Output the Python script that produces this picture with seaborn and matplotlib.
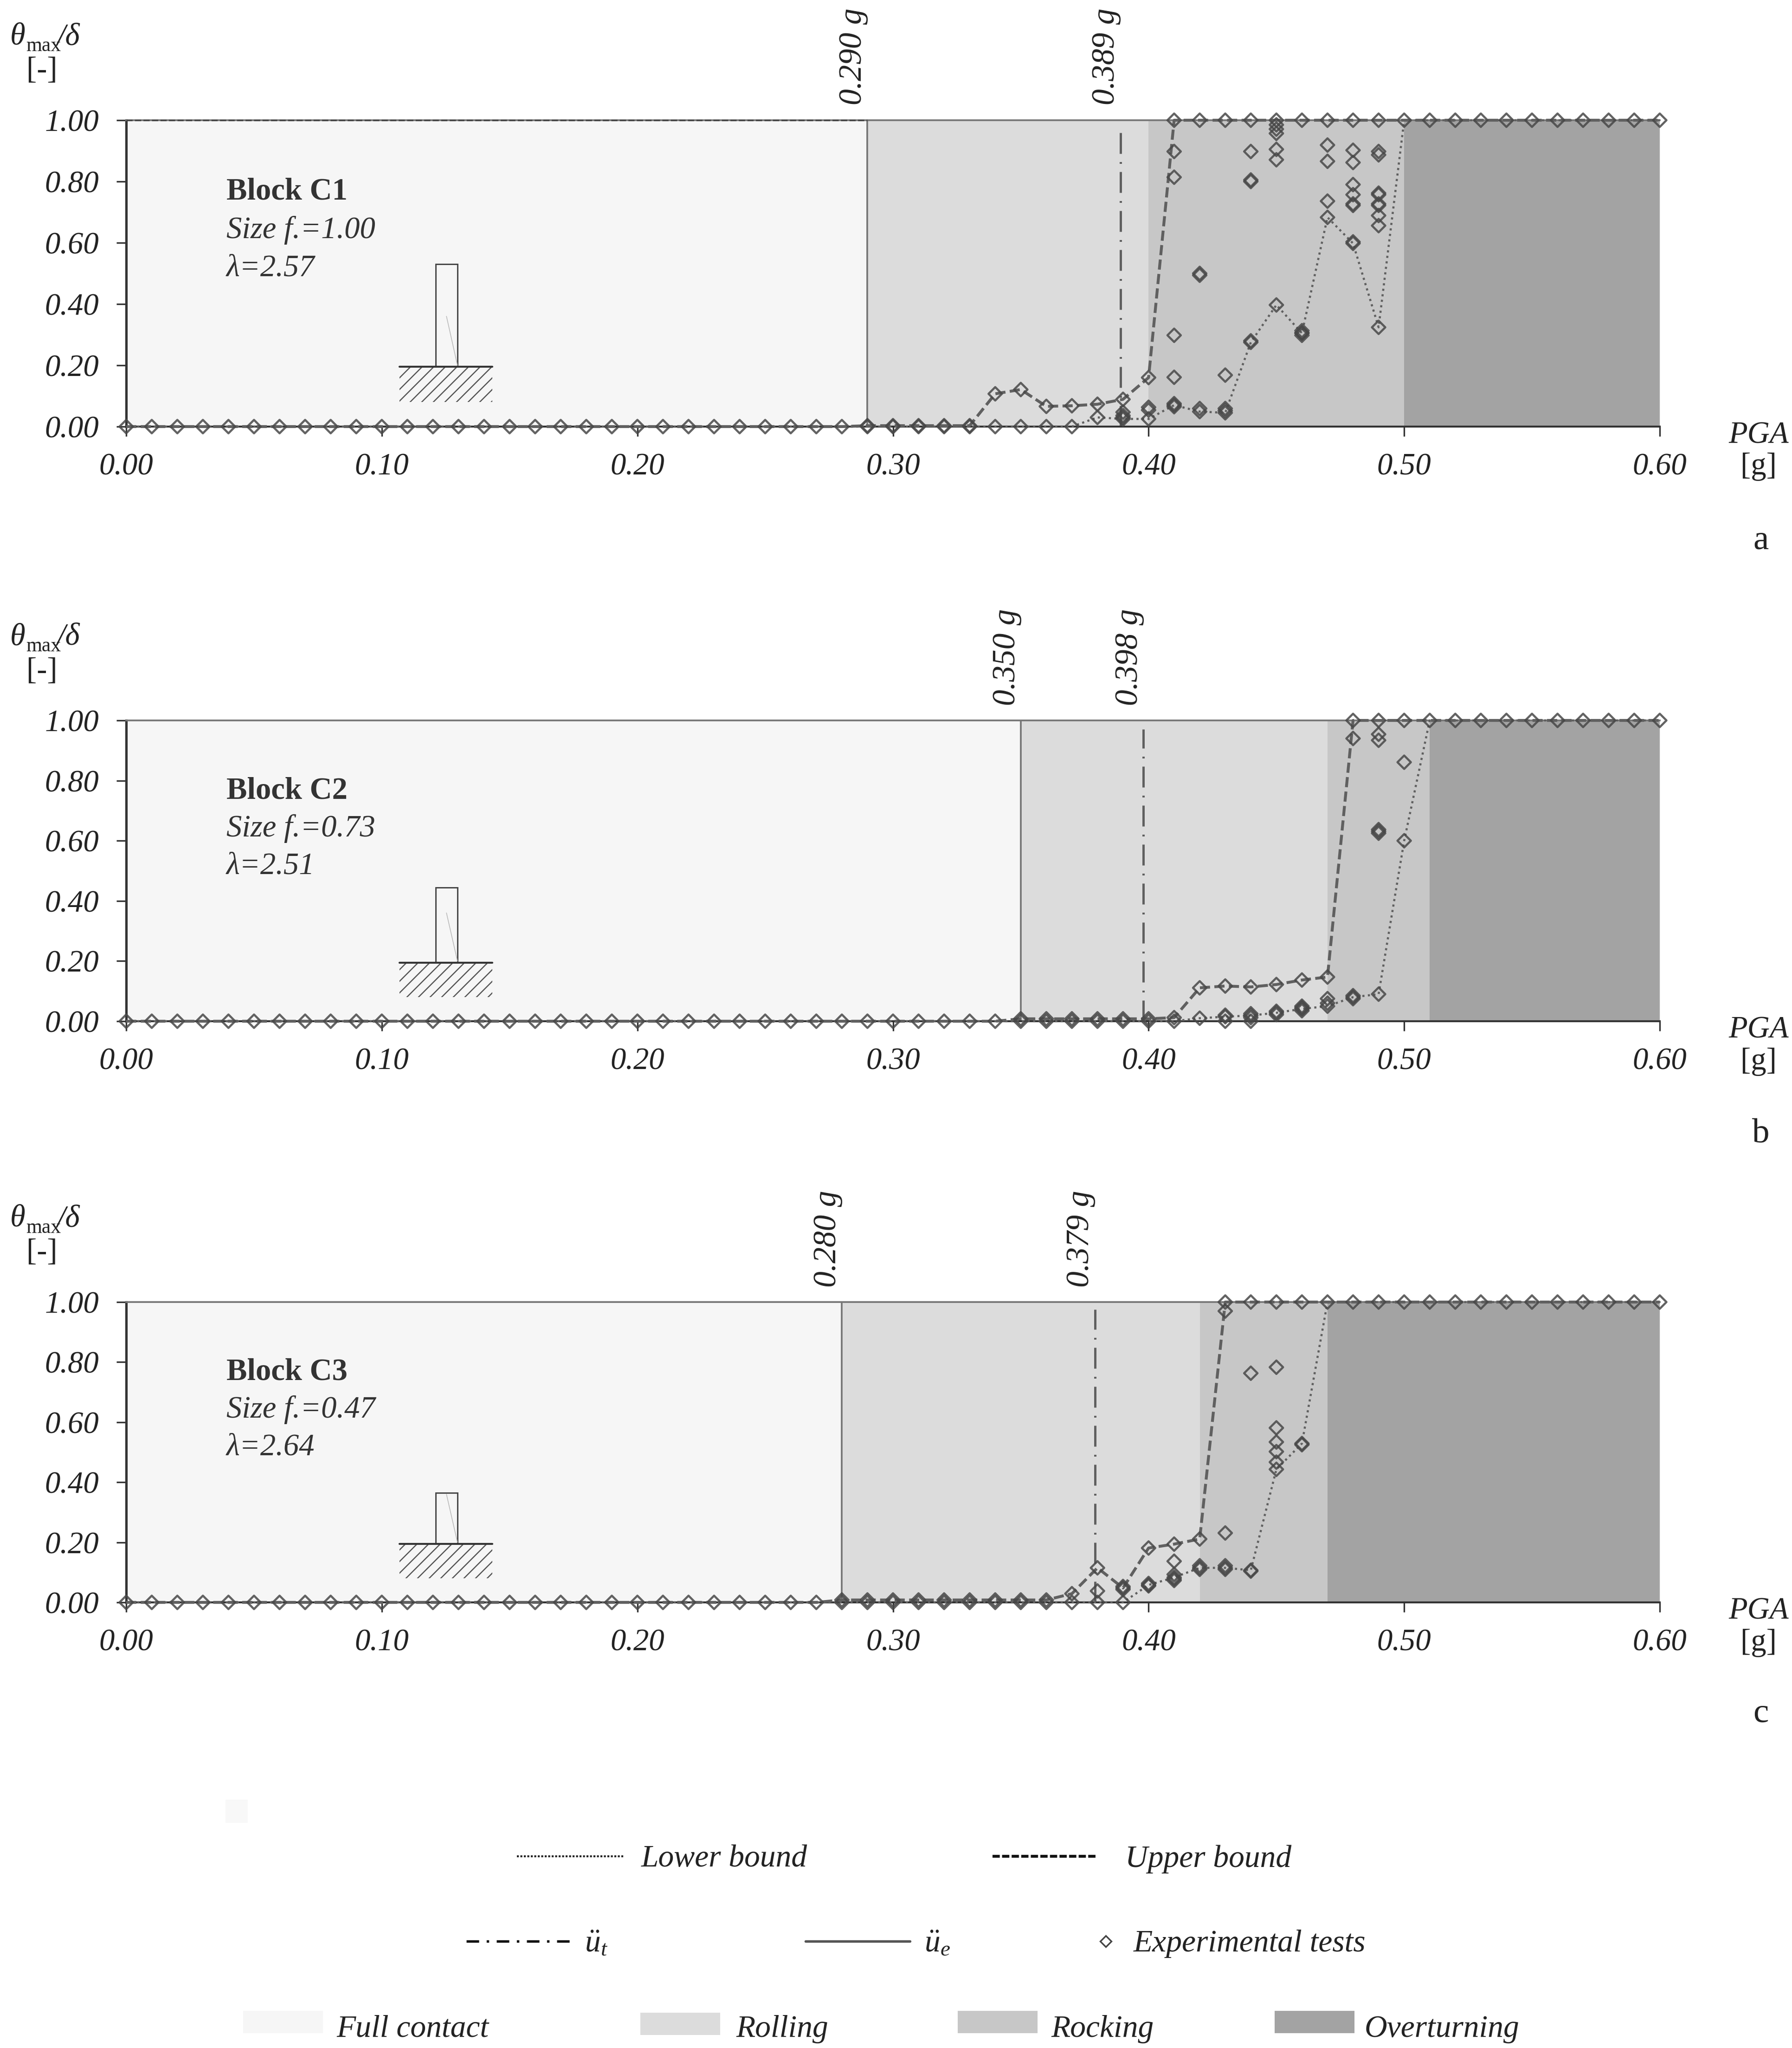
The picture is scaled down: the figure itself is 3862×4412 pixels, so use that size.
import matplotlib
matplotlib.use('Agg')
import matplotlib.pyplot as plt
import pandas as pd
import seaborn as sns
from matplotlib.patches import Rectangle

FIG_W, FIG_H = 3862, 4412

# PGA grid of the tests [g]
pga_grid = [
    0.00, 0.01, 0.02, 0.03, 0.04, 0.05, 0.06, 0.07, 0.08, 0.09,
    0.10, 0.11, 0.12, 0.13, 0.14, 0.15, 0.16, 0.17, 0.18, 0.19,
    0.20, 0.21, 0.22, 0.23, 0.24, 0.25, 0.26, 0.27, 0.28, 0.29,
    0.30, 0.31, 0.32, 0.33, 0.34, 0.35, 0.36, 0.37, 0.38, 0.39,
    0.40, 0.41, 0.42, 0.43, 0.44, 0.45, 0.46, 0.47, 0.48, 0.49,
    0.50, 0.51, 0.52, 0.53, 0.54, 0.55, 0.56, 0.57, 0.58, 0.59,
    0.60,
]

# Block C1
c1_lower = [
    0, 0, 0, 0, 0, 0, 0, 0, 0, 0,
    0, 0, 0, 0, 0, 0, 0, 0, 0, 0,
    0, 0, 0, 0, 0, 0, 0, 0, 0, 0,
    0, 0, 0, 0, 0, 0, 0, 0, 0.03, 0.025,
    0.025, 0.07, 0.049, 0.045, 0.275, 0.397, 0.305, 0.683, 0.598, 0.324,
    1, 1, 1, 1, 1, 1, 1, 1, 1, 1,
    1,
]
c1_upper = [
    0, 0, 0, 0, 0, 0, 0, 0, 0, 0,
    0, 0, 0, 0, 0, 0, 0, 0, 0, 0,
    0, 0, 0, 0, 0, 0, 0, 0, 0, 0.003,
    0.003, 0.003, 0.003, 0.003, 0.107, 0.121, 0.066, 0.068, 0.073, 0.089,
    0.16, 1, 1, 1, 1, 1, 1, 1, 1, 1,
    1, 1, 1, 1, 1, 1, 1, 1, 1, 1,
    1,
]
c1_extra_x = [
    0.39, 0.39, 0.39, 0.40, 0.40, 0.41, 0.41, 0.41, 0.41, 0.41, 0.41,
    0.42, 0.42, 0.42, 0.43, 0.43, 0.43, 0.44, 0.44, 0.44, 0.44,
    0.45, 0.45, 0.45, 0.45, 0.45, 0.46, 0.46, 0.46,
    0.47, 0.47, 0.47, 0.48, 0.48, 0.48, 0.48, 0.48, 0.48, 0.48,
    0.49, 0.49, 0.49, 0.49, 0.49, 0.49, 0.49, 0.49,
]
c1_extra_y = [
    0.047, 0.036, 0.03, 0.063, 0.054, 0.898, 0.814, 0.298, 0.161, 0.075, 0.065,
    0.494, 0.50, 0.059, 0.168, 0.059, 0.052, 0.898, 0.80, 0.805, 0.28,
    0.985, 0.971, 0.957, 0.905, 0.871, 0.313, 0.306, 0.298,
    0.919, 0.866, 0.736, 0.902, 0.862, 0.79, 0.757, 0.722, 0.727, 0.603,
    0.898, 0.887, 0.757, 0.762, 0.722, 0.727, 0.689, 0.656,
]

# Block C2
c2_lower = [
    0, 0, 0, 0, 0, 0, 0, 0, 0, 0,
    0, 0, 0, 0, 0, 0, 0, 0, 0, 0,
    0, 0, 0, 0, 0, 0, 0, 0, 0, 0,
    0, 0, 0, 0, 0, 0, 0, 0, 0, 0,
    0, 0, 0.01, 0.015, 0.019, 0.028, 0.041, 0.05, 0.08, 0.09,
    0.60, 1, 1, 1, 1, 1, 1, 1, 1, 1,
    1,
]
c2_upper = [
    0, 0, 0, 0, 0, 0, 0, 0, 0, 0,
    0, 0, 0, 0, 0, 0, 0, 0, 0, 0,
    0, 0, 0, 0, 0, 0, 0, 0, 0, 0,
    0, 0, 0, 0, 0, 0.008, 0.008, 0.008, 0.008, 0.008,
    0.008, 0.012, 0.111, 0.117, 0.114, 0.122, 0.137, 0.147, 1, 1,
    1, 1, 1, 1, 1, 1, 1, 1, 1, 1,
    1,
]
c2_extra_x = [
    0.43, 0.43, 0.44, 0.44, 0.44, 0.45, 0.45, 0.46, 0.46, 0.46,
    0.47, 0.47, 0.48, 0.48, 0.48, 0.49, 0.49, 0.49, 0.49, 0.49, 0.50,
]
c2_extra_y = [
    0, 0.02, 0, 0.025, 0.012, 0.033, 0.022, 0.05, 0.035, 0.045,
    0.075, 0.06, 0.075, 0.085, 0.94, 0.954, 0.934, 0.631, 0.625, 0.637, 0.861,
]

# Block C3
c3_lower = [
    0, 0, 0, 0, 0, 0, 0, 0, 0, 0,
    0, 0, 0, 0, 0, 0, 0, 0, 0, 0,
    0, 0, 0, 0, 0, 0, 0, 0, 0, 0,
    0, 0, 0, 0, 0, 0, 0, 0, 0, 0,
    0.058, 0.083, 0.115, 0.115, 0.107, 0.443, 0.529, 1, 1, 1,
    1, 1, 1, 1, 1, 1, 1, 1, 1, 1,
    1,
]
c3_upper = [
    0, 0, 0, 0, 0, 0, 0, 0, 0, 0,
    0, 0, 0, 0, 0, 0, 0, 0, 0, 0,
    0, 0, 0, 0, 0, 0, 0, 0, 0.008, 0.008,
    0.008, 0.008, 0.008, 0.008, 0.008, 0.008, 0.008, 0.029, 0.115, 0.048,
    0.181, 0.194, 0.211, 1, 1, 1, 1, 1, 1, 1,
    1, 1, 1, 1, 1, 1, 1, 1, 1, 1,
    1,
]
c3_extra_x = [
    0.38, 0.39, 0.39, 0.40, 0.40, 0.41, 0.41, 0.41, 0.41, 0.42, 0.42,
    0.43, 0.43, 0.43, 0.43, 0.44, 0.44, 0.45, 0.45, 0.45, 0.45, 0.45, 0.46,
]
c3_extra_y = [
    0.038, 0.043, 0.053, 0.063, 0.055, 0.137, 0.093, 0.073, 0.078, 0.122, 0.11,
    0.97, 0.231, 0.122, 0.11, 0.763, 0.104, 0.783, 0.581, 0.534, 0.502, 0.467, 0.525,
]

block_names = ['Block C1', 'Block C2', 'Block C3']
size_factors = ['1.00', '0.73', '0.47']
slenderness = ['2.57', '2.51', '2.64']
ue_values = [0.290, 0.350, 0.280]
ut_values = [0.389, 0.398, 0.379]
ut_line_tops = [0.985, 0.97, 0.975]
rocking_start = [0.40, 0.47, 0.42]
overturn_start = [0.50, 0.51, 0.47]
block_tops = [0.53, 0.445, 0.365]
panel_letters = ['a', 'b', 'c']

# pixel position of each panel: y of 1.00 and y of 0.00
panel_top = [259, 1552, 2805]
panel_bottom = [919, 2200, 3452]
panel_left, panel_right = 272, 3577

zone_colors = ['#f6f6f6', '#dcdcdc', '#c7c7c7', '#a3a3a3']
line_gray = '#606060'
text_gray = '#333333'


def px_axes(fig, top, bottom):
    return fig.add_axes([
        panel_left / FIG_W, 1 - bottom / FIG_H,
        (panel_right - panel_left) / FIG_W, (bottom - top) / FIG_H,
    ])


def draw_schematic(ax, block_top):
    ax.add_patch(Rectangle((0.121, 0.195), 0.0086, block_top - 0.195,
                           fill=False, edgecolor='#444444', lw=0.7))
    ax.plot([0.1253, 0.1296], [0.36, 0.2], color='#bbbbbb', lw=0.4)
    ax.add_patch(Rectangle((0.107, 0.08), 0.0363, 0.115, facecolor='none',
                           edgecolor='#555555', hatch='////', lw=0))
    ax.plot([0.107, 0.1433], [0.195, 0.195], color='#333333', lw=1.0)


def draw_panel(ax, i, lower, upper, extra_x, extra_y):
    edges = [0, ue_values[i], rocking_start[i], overturn_start[i], 0.6]
    for k in range(4):
        ax.axvspan(edges[k], edges[k + 1], color=zone_colors[k], lw=0, zorder=0)

    sns.lineplot(x=pga_grid, y=lower, ax=ax, color=line_gray, lw=1.1,
                 linestyle=(0, (1, 1.6)), estimator=None, clip_on=False, zorder=3)
    sns.lineplot(x=pga_grid, y=upper, ax=ax, color=line_gray, lw=1.5,
                 linestyle=(0, (3.5, 1.5)), estimator=None, clip_on=False, zorder=3)

    ax.plot([ue_values[i]] * 2, [0, 1], color='#777777', lw=0.9, zorder=2)
    ax.plot([ut_values[i]] * 2, [0, ut_line_tops[i]], color=line_gray, lw=1.2,
            linestyle=(0, (9, 3.5, 0.8, 3.5)), zorder=2)
    if i == 0:
        # the top edge of the first panel shows dashes before the u_e line
        ax.plot([0, ue_values[i]], [1, 1], color='#444444', lw=0.8,
                linestyle=(0, (4, 1.5)), clip_on=False, zorder=3)

    # the tests sit on both bounds, plus the scattered repeats in between
    on_bounds = pd.DataFrame({
        'pga': pga_grid + pga_grid,
        'ratio': lower + upper,
    }).drop_duplicates()
    tests = pd.concat([on_bounds, pd.DataFrame({'pga': extra_x, 'ratio': extra_y})])
    sns.scatterplot(data=tests, x='pga', y='ratio', ax=ax, marker='D', s=24,
                    facecolors='none', edgecolor='#484848', linewidth=1.1,
                    alpha=0.85, clip_on=False, zorder=4, legend=False)

    draw_schematic(ax, block_tops[i])

    ax.text(0.0392, 0.766, block_names[i], fontsize=16, fontweight='bold',
            color=text_gray, va='center', fontfamily='Liberation Serif')
    ax.text(0.0392, 0.641, f'Size f.={size_factors[i]}', fontsize=16, style='italic',
            color=text_gray, va='center', fontfamily='Liberation Serif')
    ax.text(0.0392, 0.516, f'λ={slenderness[i]}', fontsize=16, style='italic',
            color=text_gray, va='center', fontfamily='Liberation Serif')

    for val in (ue_values[i], ut_values[i]):
        ax.text(val + 0.0003, 1.05, f'{val:.3f} g', rotation=90, fontsize=16.7,
                style='italic', ha='right', va='bottom', color='#222222',
                fontfamily='Liberation Serif', clip_on=False)

    ax.set_xlim(0, 0.6)
    ax.set_ylim(0, 1)
    ax.set_xticks([0, 0.1, 0.2, 0.3, 0.4, 0.5, 0.6])
    ax.set_yticks([0, 0.2, 0.4, 0.6, 0.8, 1.0])
    ax.set_xticklabels([f'{v:.2f}' for v in ax.get_xticks()])
    ax.set_yticklabels([f'{v:.2f}' for v in ax.get_yticks()])
    ax.tick_params(axis='x', pad=8.5)
    ax.tick_params(axis='y', pad=9)
    ax.tick_params(axis='both', length=5, width=0.8, color='#333333', labelsize=16,
                   labelcolor='#222222')
    for lab in ax.get_xticklabels() + ax.get_yticklabels():
        lab.set_style('italic')
    ax.set_xlabel('')
    ax.set_ylabel('')
    sns.despine(ax=ax, top=False, right=True)
    ax.spines['left'].set_color('#333333')
    ax.spines['bottom'].set_color('#333333')
    ax.spines['bottom'].set_linewidth(1.0)
    ax.spines['top'].set_color('#777777')
    ax.spines['top'].set_linewidth(0.9)


def draw_outer_text(over, i):
    top, bottom = panel_top[i], panel_bottom[i]
    # italic greek is not reached through mathtext here, so the label is three pieces
    base = top - 163
    over.text(22, base, 'θ', fontsize=16, style='italic', va='baseline', color='#222222')
    over.text(56, base + 14, 'max', fontsize=10.5, va='baseline', color='#222222')
    over.text(122, base, '/δ', fontsize=16, style='italic', va='baseline', color='#222222')
    over.text(90, top - 106, '[-]', fontsize=16, ha='center', va='center', color='#222222')
    over.text(3790, bottom + 19, 'PGA', fontsize=16, style='italic', ha='center',
              va='center', color='#222222')
    over.text(3790, bottom + 87, '[g]', fontsize=16, ha='center', va='center', color='#222222')
    over.text(3795, bottom + 246 - 3 * i, panel_letters[i], fontsize=18, ha='center',
              va='center', color='#222222')


def draw_legend(over):
    legend_size = 16.2
    over.plot([1114, 1345], [3999, 3999], color='#222222', lw=1.0, linestyle=(0, (1, 0.8)))
    over.text(1382, 4005, 'Lower bound', fontsize=legend_size, style='italic', va='center',
              color='#222222')
    over.plot([2139, 2364], [3999, 3999], color='#111111', lw=1.5, linestyle=(0, (2.5, 0.8)))
    over.text(2425, 4005, 'Upper bound', fontsize=legend_size, style='italic', va='center',
              color='#222222')

    over.plot([1005, 1238], [4182, 4182], color='#111111', lw=1.3, linestyle=(0, (5, 3, 1, 3)))
    over.text(1260, 4188, r'$\ddot{u}_{t}$', fontsize=legend_size, va='center', color='#222222')
    over.plot([1736, 1961], [4182, 4182], color='#555555', lw=1.3)
    over.text(1992, 4188, r'$\ddot{u}_{e}$', fontsize=legend_size, va='center', color='#222222')
    over.plot([2383], [4182], marker='D', ms=4.2, mfc='none', mec='#444444', mew=0.8)
    over.text(2443, 4188, 'Experimental tests', fontsize=legend_size, style='italic', va='center',
              color='#222222')

    # stray pale square left in the original figure
    over.add_patch(Rectangle((486, 3877), 48, 50, facecolor='#f8f8f8', lw=0))

    zones = [('Full contact', 524, 4332, 725), ('Rolling', 1380, 4336, 1586),
             ('Rocking', 2064, 4332, 2265), ('Overturning', 2747, 4332, 2941)]
    for k, (name, x, y, tx) in enumerate(zones):
        over.add_patch(Rectangle((x, y), 172, 48, facecolor=zone_colors[k], lw=0))
        over.text(tx, 4371, name, fontsize=legend_size, style='italic', va='center', color='#222222')


if __name__ == "__main__":
    sns.set_theme(style='ticks')
    plt.rcParams['font.family'] = ['Liberation Serif', 'DejaVu Serif']
    plt.rcParams['mathtext.fontset'] = 'custom'
    plt.rcParams['mathtext.rm'] = 'Liberation Serif'
    plt.rcParams['mathtext.it'] = 'Liberation Serif:italic'
    plt.rcParams['mathtext.bf'] = 'Liberation Serif:bold'
    plt.rcParams['hatch.linewidth'] = 0.6

    fig = plt.figure(figsize=(FIG_W / 300, FIG_H / 300), dpi=300)

    series = [
        (c1_lower, c1_upper, c1_extra_x, c1_extra_y),
        (c2_lower, c2_upper, c2_extra_x, c2_extra_y),
        (c3_lower, c3_upper, c3_extra_x, c3_extra_y),
    ]
    for i, (lower, upper, extra_x, extra_y) in enumerate(series):
        ax = px_axes(fig, panel_top[i], panel_bottom[i])
        draw_panel(ax, i, lower, upper, extra_x, extra_y)

    over = fig.add_axes([0, 0, 1, 1], facecolor='none')
    over.set_xlim(0, FIG_W)
    over.set_ylim(FIG_H, 0)
    over.axis('off')
    for i in range(3):
        draw_outer_text(over, i)
    draw_legend(over)

    fig.savefig('out.png', dpi=300, facecolor='white')
    plt.close(fig)
